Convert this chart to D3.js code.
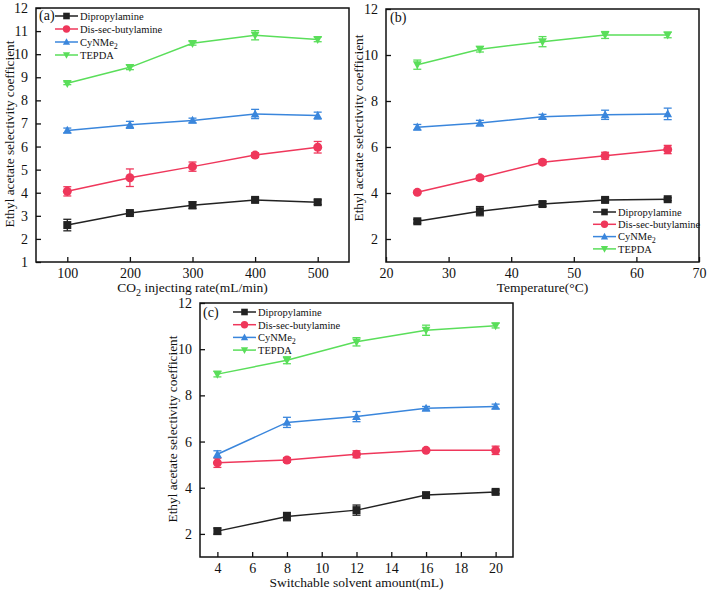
<!DOCTYPE html>
<html><head><meta charset="utf-8">
<script src="https://cdn.jsdelivr.net/npm/d3@7"></script>
<style>body{margin:0;background:#fff}svg{display:block}svg text{font-family:"Liberation Serif","DejaVu Serif","Noto Serif",serif !important;fill:#111}</style>
</head><body>
<script>
const seriesNames = ["Dipropylamine", "Dis-sec-butylamine", "CyNMe2", "TEPDA"];
const seriesColors = ["#222222", "#ef375b", "#3a86dc", "#5ade5a"];
const seriesSymbols = ["square", "circle", "triangleUp", "triangleDown"];

// Panel (a): CO2 injecting rate
const xA = [100, 200, 300, 400, 500];
const aDip = [2.6, 3.12, 3.46, 3.69, 3.59];
const aDis = [4.06, 4.65, 5.13, 5.63, 5.97];
const aCy  = [6.7, 6.94, 7.13, 7.41, 7.34];
const aTe  = [8.74, 9.43, 10.47, 10.82, 10.64];
const aDipErr = [0.25, 0.06, 0.15, 0.08, 0.1];
const aDisErr = [0.2, 0.38, 0.2, 0.1, 0.25];
const aCyErr  = [0.1, 0.15, 0.1, 0.2, 0.15];
const aTeErr  = [0.06, 0.1, 0.08, 0.2, 0.1];
const aXTicks = [100, 200, 300, 400, 500];
const aYTicks = [1, 2, 3, 4, 5, 6, 7, 8, 9, 10, 11, 12];

// Panel (b): Temperature
const xB = [25, 35, 45, 55, 65];
const bDip = [2.77, 3.21, 3.52, 3.7, 3.73];
const bDis = [4.03, 4.66, 5.34, 5.62, 5.89];
const bCy  = [6.86, 7.04, 7.32, 7.4, 7.44];
const bTe  = [9.58, 10.25, 10.58, 10.87, 10.87];
const bDipErr = [0.08, 0.2, 0.1, 0.08, 0.06];
const bDisErr = [0.05, 0.1, 0.1, 0.15, 0.18];
const bCyErr  = [0.12, 0.12, 0.1, 0.2, 0.25];
const bTeErr  = [0.2, 0.12, 0.22, 0.15, 0.12];
const bXTicks = [20, 30, 40, 50, 60, 70];
const bYTicks = [2, 4, 6, 8, 10, 12];

// Panel (c): Switchable solvent amount
const xC = [4, 8, 12, 16, 20];
const cDip = [2.12, 2.75, 3.03, 3.68, 3.82];
const cDis = [5.08, 5.2, 5.45, 5.62, 5.62];
const cCy  = [5.45, 6.83, 7.08, 7.44, 7.52];
const cTe  = [8.92, 9.52, 10.32, 10.82, 11.02];
const cDipErr = [0.13, 0.18, 0.22, 0.1, 0.08];
const cDisErr = [0.2, 0.1, 0.15, 0.05, 0.18];
const cCyErr  = [0.15, 0.22, 0.22, 0.08, 0.1];
const cTeErr  = [0.12, 0.15, 0.18, 0.22, 0.1];
const cXTicks = [4, 6, 8, 10, 12, 14, 16, 18, 20];
const cYTicks = [2, 4, 6, 8, 10, 12];

const W = 708, H = 592;
const svg = d3.select("body").append("svg").attr("width", W).attr("height", H);

function symbolPath(kind, s) {
  if (kind === "square") return `M${-s},${-s}H${s}V${s}H${-s}Z`;
  if (kind === "circle") return d3.symbol(d3.symbolCircle, Math.PI * s * s * 1.25)();
  if (kind === "triangleUp") return `M0,${-s*1.15}L${s*1.1},${s*0.85}L${-s*1.1},${s*0.85}Z`;
  return `M0,${s*1.15}L${s*1.1},${-s*0.85}L${-s*1.1},${-s*0.85}Z`;
}

function legendText(sel, name) {
  if (name === "CyNMe2") {
    sel.text("CyNMe");
    sel.append("tspan").attr("dy", 3).attr("font-size", 8).text("2");
  } else sel.text(name);
}

function drawPanel(p) {
  const g = svg.append("g");
  const x = d3.scaleLinear().domain(p.xDomain).range([p.left, p.right]);
  const y = d3.scaleLinear().domain([1, 12]).range([p.bottom, p.top]);

  const xAxis = d3.axisBottom(x).tickValues(p.xTicks).tickSizeInner(-5).tickSizeOuter(0).tickPadding(6);
  const yAxis = d3.axisLeft(y).tickValues(p.yTicks).tickSizeInner(-5).tickSizeOuter(0).tickPadding(8);
  const gx = g.append("g").attr("transform", `translate(0,${p.bottom})`).call(xAxis);
  const gy = g.append("g").attr("transform", `translate(${p.left},0)`).call(yAxis);
  [gx, gy].forEach(a => {
    a.attr("font-family", null);
    a.selectAll("text").attr("font-size", 14).attr("fill", "#111");
    a.selectAll("line").attr("stroke", "#111").attr("stroke-width", 1.3);
    a.select(".domain").remove();
  });
  g.append("rect").attr("x", p.left).attr("y", p.top)
    .attr("width", p.right - p.left).attr("height", p.bottom - p.top)
    .attr("fill", "none").attr("stroke", "#111").attr("stroke-width", 1.5);

  p.series.forEach((s, i) => {
    const col = seriesColors[i];
    const pts = p.xs.map((xv, j) => ({x: xv, v: s.v[j], e: s.e[j]}));
    g.append("path").datum(pts).attr("fill", "none").attr("stroke", col).attr("stroke-width", 1.5)
      .attr("d", d3.line().x(d => x(d.x)).y(d => y(d.v)));
    const eb = g.append("g");
    pts.forEach(d => {
      const cx = x(d.x), y1 = y(d.v + d.e), y2 = y(d.v - d.e);
      eb.append("line").attr("x1", cx).attr("x2", cx).attr("y1", y1).attr("y2", y2).attr("stroke", col).attr("stroke-width", 1.3);
      eb.append("line").attr("x1", cx - 4).attr("x2", cx + 4).attr("y1", y1).attr("y2", y1).attr("stroke", col).attr("stroke-width", 1.3);
      eb.append("line").attr("x1", cx - 4).attr("x2", cx + 4).attr("y1", y2).attr("y2", y2).attr("stroke", col).attr("stroke-width", 1.3);
      eb.append("path").attr("d", symbolPath(seriesSymbols[i], 4)).attr("transform", `translate(${cx},${y(d.v)})`).attr("fill", col);
    });
  });

  const lg = g.append("g");
  seriesNames.forEach((n, i) => {
    const ly = p.legY + i * p.legDy;
    lg.append("line").attr("x1", p.legX).attr("x2", p.legX + 23).attr("y1", ly).attr("y2", ly)
      .attr("stroke", seriesColors[i]).attr("stroke-width", 1.5);
    lg.append("path").attr("d", symbolPath(seriesSymbols[i], 3.3)).attr("transform", `translate(${p.legX + 11.5},${ly})`).attr("fill", seriesColors[i]);
    const t = lg.append("text").attr("x", p.legX + 25).attr("y", ly + 3.8).attr("font-size", 10.5);
    legendText(t, n);
  });

  if (p.label) g.append("text").attr("x", p.labelX).attr("y", p.labelY).attr("font-size", 14).text(p.label);

  const xt = g.append("text").attr("x", (p.left + p.right) / 2).attr("y", p.bottom + 30)
    .attr("text-anchor", "middle").attr("font-size", 13.5);
  if (p.xTitleSub) {
    xt.append("tspan").text(p.xTitle[0]);
    xt.append("tspan").attr("dy", 4).attr("font-size", 10).text("2");
    xt.append("tspan").attr("dy", -4).text(p.xTitle[1]);
  } else xt.text(p.xTitle);

  g.append("text").attr("transform", `translate(${p.yTitleX},${p.yTitleY}) rotate(-90)`)
    .attr("text-anchor", "middle").attr("font-size", 13.3).text("Ethyl acetate selectivity coefficient");
}

drawPanel({
  left: 36, right: 349, top: 8, bottom: 262, xDomain: [50, 550],
  xTicks: aXTicks, yTicks: aYTicks, xs: xA,
  series: [{v: aDip, e: aDipErr}, {v: aDis, e: aDisErr}, {v: aCy, e: aCyErr}, {v: aTe, e: aTeErr}],
  legX: 55, legY: 16, legDy: 13, label: "(a)", labelX: 39, labelY: 20,
  xTitle: ["CO", " injecting rate(mL/min)"], xTitleSub: true, yTitleX: 14, yTitleY: 134
});
drawPanel({
  left: 386, right: 699, top: 9, bottom: 262, xDomain: [20, 70],
  xTicks: bXTicks, yTicks: bYTicks, xs: xB,
  series: [{v: bDip, e: bDipErr}, {v: bDis, e: bDisErr}, {v: bCy, e: bCyErr}, {v: bTe, e: bTeErr}],
  legX: 593, legY: 212, legDy: 12.3, label: "(b)", labelX: 390, labelY: 22,
  xTitle: "Temperature(°C)", yTitleX: 363, yTitleY: 128
});
drawPanel({
  left: 200, right: 513, top: 303, bottom: 557, xDomain: [3, 21],
  xTicks: cXTicks, yTicks: cYTicks, xs: xC,
  series: [{v: cDip, e: cDipErr}, {v: cDis, e: cDisErr}, {v: cCy, e: cCyErr}, {v: cTe, e: cTeErr}],
  legX: 233, legY: 312, legDy: 12.7, label: "(c)", labelX: 203, labelY: 317,
  xTitle: "Switchable solvent amount(mL)", yTitleX: 177, yTitleY: 429
});
</script>
</body></html>
